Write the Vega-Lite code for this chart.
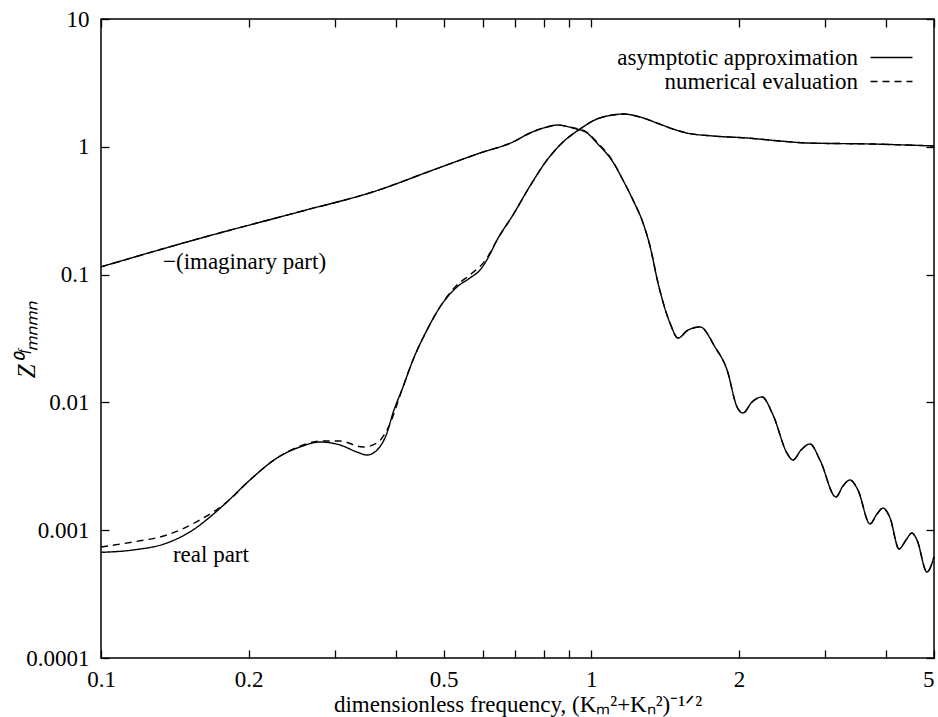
{
  "$schema": "https://vega.github.io/schema/vega-lite/v6.json",
  "width": 833,
  "height": 639,
  "autosize": {"type": "none"},
  "padding": {"left": 101, "top": 19, "right": 4, "bottom": 59},
  "background": "white",
  "config": {
    "font": "Liberation Serif",
    "view": {"stroke": "black", "strokeWidth": 1.5},
    "axis": {
      "labelFont": "Liberation Serif", "labelFontSize": 23, "labelColor": "black",
      "titleFont": "Liberation Serif", "titleFontSize": 23, "titleFontWeight": "normal", "titleColor": "black",
      "tickColor": "black", "tickWidth": 1.3, "domain": false, "grid": false
    },
    "legend": {"labelFont": "Liberation Serif"},
    "text": {"font": "Liberation Serif"}
  },
  "datasets": {
    "curves": [
      {"freq": 0.1, "Z": 0.115, "part": "imaginary", "method": "asymptotic approximation"},
      {"freq": 0.159, "Z": 0.192, "part": "imaginary", "method": "asymptotic approximation"},
      {"freq": 0.2546, "Z": 0.311, "part": "imaginary", "method": "asymptotic approximation"},
      {"freq": 0.365, "Z": 0.4535, "part": "imaginary", "method": "asymptotic approximation"},
      {"freq": 0.4755, "Z": 0.658, "part": "imaginary", "method": "asymptotic approximation"},
      {"freq": 0.593, "Z": 0.894, "part": "imaginary", "method": "asymptotic approximation"},
      {"freq": 0.692, "Z": 1.09, "part": "imaginary", "method": "asymptotic approximation"},
      {"freq": 0.75, "Z": 1.282, "part": "imaginary", "method": "asymptotic approximation"},
      {"freq": 0.8123, "Z": 1.429, "part": "imaginary", "method": "asymptotic approximation"},
      {"freq": 0.851, "Z": 1.48, "part": "imaginary", "method": "asymptotic approximation"},
      {"freq": 0.918, "Z": 1.4, "part": "imaginary", "method": "asymptotic approximation"},
      {"freq": 0.98, "Z": 1.282, "part": "imaginary", "method": "asymptotic approximation"},
      {"freq": 1.027, "Z": 1.07, "part": "imaginary", "method": "asymptotic approximation"},
      {"freq": 1.107, "Z": 0.76, "part": "imaginary", "method": "asymptotic approximation"},
      {"freq": 1.16, "Z": 0.55, "part": "imaginary", "method": "asymptotic approximation"},
      {"freq": 1.216, "Z": 0.384, "part": "imaginary", "method": "asymptotic approximation"},
      {"freq": 1.275, "Z": 0.2535, "part": "imaginary", "method": "asymptotic approximation"},
      {"freq": 1.318, "Z": 0.166, "part": "imaginary", "method": "asymptotic approximation"},
      {"freq": 1.368, "Z": 0.086, "part": "imaginary", "method": "asymptotic approximation"},
      {"freq": 1.447, "Z": 0.0418, "part": "imaginary", "method": "asymptotic approximation"},
      {"freq": 1.503, "Z": 0.0319, "part": "imaginary", "method": "asymptotic approximation"},
      {"freq": 1.575, "Z": 0.0368, "part": "imaginary", "method": "asymptotic approximation"},
      {"freq": 1.667, "Z": 0.0389, "part": "imaginary", "method": "asymptotic approximation"},
      {"freq": 1.788, "Z": 0.0271, "part": "imaginary", "method": "asymptotic approximation"},
      {"freq": 1.892, "Z": 0.01793, "part": "imaginary", "method": "asymptotic approximation"},
      {"freq": 1.983, "Z": 0.0092, "part": "imaginary", "method": "asymptotic approximation"},
      {"freq": 2.039, "Z": 0.00826, "part": "imaginary", "method": "asymptotic approximation"},
      {"freq": 2.127, "Z": 0.01007, "part": "imaginary", "method": "asymptotic approximation"},
      {"freq": 2.229, "Z": 0.01102, "part": "imaginary", "method": "asymptotic approximation"},
      {"freq": 2.348, "Z": 0.00797, "part": "imaginary", "method": "asymptotic approximation"},
      {"freq": 2.506, "Z": 0.00402, "part": "imaginary", "method": "asymptotic approximation"},
      {"freq": 2.579, "Z": 0.00354, "part": "imaginary", "method": "asymptotic approximation"},
      {"freq": 2.678, "Z": 0.00424, "part": "imaginary", "method": "asymptotic approximation"},
      {"freq": 2.793, "Z": 0.00473, "part": "imaginary", "method": "asymptotic approximation"},
      {"freq": 2.927, "Z": 0.00354, "part": "imaginary", "method": "asymptotic approximation"},
      {"freq": 3.155, "Z": 0.00182, "part": "imaginary", "method": "asymptotic approximation"},
      {"freq": 3.261, "Z": 0.00222, "part": "imaginary", "method": "asymptotic approximation"},
      {"freq": 3.37, "Z": 0.00247, "part": "imaginary", "method": "asymptotic approximation"},
      {"freq": 3.499, "Z": 0.00206, "part": "imaginary", "method": "asymptotic approximation"},
      {"freq": 3.702, "Z": 0.00112, "part": "imaginary", "method": "asymptotic approximation"},
      {"freq": 3.826, "Z": 0.00134, "part": "imaginary", "method": "asymptotic approximation"},
      {"freq": 3.935, "Z": 0.00149, "part": "imaginary", "method": "asymptotic approximation"},
      {"freq": 4.067, "Z": 0.00125, "part": "imaginary", "method": "asymptotic approximation"},
      {"freq": 4.243, "Z": 0.000713, "part": "imaginary", "method": "asymptotic approximation"},
      {"freq": 4.384, "Z": 0.000838, "part": "imaginary", "method": "asymptotic approximation"},
      {"freq": 4.509, "Z": 0.000951, "part": "imaginary", "method": "asymptotic approximation"},
      {"freq": 4.616, "Z": 0.000838, "part": "imaginary", "method": "asymptotic approximation"},
      {"freq": 4.838, "Z": 0.000471, "part": "imaginary", "method": "asymptotic approximation"},
      {"freq": 5.0, "Z": 0.000617, "part": "imaginary", "method": "asymptotic approximation"},

      {"freq": 0.1, "Z": 0.115, "part": "imaginary", "method": "numerical evaluation"},
      {"freq": 0.159, "Z": 0.192, "part": "imaginary", "method": "numerical evaluation"},
      {"freq": 0.2546, "Z": 0.311, "part": "imaginary", "method": "numerical evaluation"},
      {"freq": 0.365, "Z": 0.4535, "part": "imaginary", "method": "numerical evaluation"},
      {"freq": 0.4755, "Z": 0.658, "part": "imaginary", "method": "numerical evaluation"},
      {"freq": 0.593, "Z": 0.894, "part": "imaginary", "method": "numerical evaluation"},
      {"freq": 0.692, "Z": 1.09, "part": "imaginary", "method": "numerical evaluation"},
      {"freq": 0.75, "Z": 1.282, "part": "imaginary", "method": "numerical evaluation"},
      {"freq": 0.8123, "Z": 1.429, "part": "imaginary", "method": "numerical evaluation"},
      {"freq": 0.851, "Z": 1.48, "part": "imaginary", "method": "numerical evaluation"},
      {"freq": 0.918, "Z": 1.41, "part": "imaginary", "method": "numerical evaluation"},
      {"freq": 0.98, "Z": 1.3, "part": "imaginary", "method": "numerical evaluation"},
      {"freq": 1.027, "Z": 1.09, "part": "imaginary", "method": "numerical evaluation"},
      {"freq": 1.107, "Z": 0.77, "part": "imaginary", "method": "numerical evaluation"},
      {"freq": 1.16, "Z": 0.55, "part": "imaginary", "method": "numerical evaluation"},
      {"freq": 1.216, "Z": 0.384, "part": "imaginary", "method": "numerical evaluation"},
      {"freq": 1.275, "Z": 0.2535, "part": "imaginary", "method": "numerical evaluation"},
      {"freq": 1.318, "Z": 0.166, "part": "imaginary", "method": "numerical evaluation"},
      {"freq": 1.368, "Z": 0.086, "part": "imaginary", "method": "numerical evaluation"},
      {"freq": 1.447, "Z": 0.0418, "part": "imaginary", "method": "numerical evaluation"},
      {"freq": 1.503, "Z": 0.0319, "part": "imaginary", "method": "numerical evaluation"},
      {"freq": 1.575, "Z": 0.0368, "part": "imaginary", "method": "numerical evaluation"},
      {"freq": 1.667, "Z": 0.0389, "part": "imaginary", "method": "numerical evaluation"},
      {"freq": 1.788, "Z": 0.0271, "part": "imaginary", "method": "numerical evaluation"},
      {"freq": 1.892, "Z": 0.01793, "part": "imaginary", "method": "numerical evaluation"},
      {"freq": 1.983, "Z": 0.0092, "part": "imaginary", "method": "numerical evaluation"},
      {"freq": 2.039, "Z": 0.00826, "part": "imaginary", "method": "numerical evaluation"},
      {"freq": 2.127, "Z": 0.01007, "part": "imaginary", "method": "numerical evaluation"},
      {"freq": 2.229, "Z": 0.01102, "part": "imaginary", "method": "numerical evaluation"},
      {"freq": 2.348, "Z": 0.00797, "part": "imaginary", "method": "numerical evaluation"},
      {"freq": 2.506, "Z": 0.00402, "part": "imaginary", "method": "numerical evaluation"},
      {"freq": 2.579, "Z": 0.00354, "part": "imaginary", "method": "numerical evaluation"},
      {"freq": 2.678, "Z": 0.00424, "part": "imaginary", "method": "numerical evaluation"},
      {"freq": 2.793, "Z": 0.00473, "part": "imaginary", "method": "numerical evaluation"},
      {"freq": 2.927, "Z": 0.00354, "part": "imaginary", "method": "numerical evaluation"},
      {"freq": 3.155, "Z": 0.00182, "part": "imaginary", "method": "numerical evaluation"},
      {"freq": 3.261, "Z": 0.00222, "part": "imaginary", "method": "numerical evaluation"},
      {"freq": 3.37, "Z": 0.00247, "part": "imaginary", "method": "numerical evaluation"},
      {"freq": 3.499, "Z": 0.00206, "part": "imaginary", "method": "numerical evaluation"},
      {"freq": 3.702, "Z": 0.00112, "part": "imaginary", "method": "numerical evaluation"},
      {"freq": 3.826, "Z": 0.00134, "part": "imaginary", "method": "numerical evaluation"},
      {"freq": 3.935, "Z": 0.00149, "part": "imaginary", "method": "numerical evaluation"},
      {"freq": 4.067, "Z": 0.00125, "part": "imaginary", "method": "numerical evaluation"},
      {"freq": 4.243, "Z": 0.000713, "part": "imaginary", "method": "numerical evaluation"},
      {"freq": 4.384, "Z": 0.000838, "part": "imaginary", "method": "numerical evaluation"},
      {"freq": 4.509, "Z": 0.000951, "part": "imaginary", "method": "numerical evaluation"},
      {"freq": 4.616, "Z": 0.000838, "part": "imaginary", "method": "numerical evaluation"},
      {"freq": 4.838, "Z": 0.000471, "part": "imaginary", "method": "numerical evaluation"},
      {"freq": 5.0, "Z": 0.000617, "part": "imaginary", "method": "numerical evaluation"},

      {"freq": 0.1, "Z": 0.000671, "part": "real", "method": "asymptotic approximation"},
      {"freq": 0.1162, "Z": 0.0007, "part": "real", "method": "asymptotic approximation"},
      {"freq": 0.1363, "Z": 0.000794, "part": "real", "method": "asymptotic approximation"},
      {"freq": 0.154, "Z": 0.001004, "part": "real", "method": "asymptotic approximation"},
      {"freq": 0.1668, "Z": 0.001268, "part": "real", "method": "asymptotic approximation"},
      {"freq": 0.1807, "Z": 0.001663, "part": "real", "method": "asymptotic approximation"},
      {"freq": 0.2013, "Z": 0.002471, "part": "real", "method": "asymptotic approximation"},
      {"freq": 0.2285, "Z": 0.003672, "part": "real", "method": "asymptotic approximation"},
      {"freq": 0.2546, "Z": 0.004477, "part": "real", "method": "asymptotic approximation"},
      {"freq": 0.2797, "Z": 0.004898, "part": "real", "method": "asymptotic approximation"},
      {"freq": 0.3072, "Z": 0.004645, "part": "real", "method": "asymptotic approximation"},
      {"freq": 0.3327, "Z": 0.004091, "part": "real", "method": "asymptotic approximation"},
      {"freq": 0.3487, "Z": 0.003877, "part": "real", "method": "asymptotic approximation"},
      {"freq": 0.3656, "Z": 0.004241, "part": "real", "method": "asymptotic approximation"},
      {"freq": 0.383, "Z": 0.005764, "part": "real", "method": "asymptotic approximation"},
      {"freq": 0.394, "Z": 0.00826, "part": "real", "method": "asymptotic approximation"},
      {"freq": 0.413, "Z": 0.0132, "part": "real", "method": "asymptotic approximation"},
      {"freq": 0.4328, "Z": 0.02148, "part": "real", "method": "asymptotic approximation"},
      {"freq": 0.4623, "Z": 0.03685, "part": "real", "method": "asymptotic approximation"},
      {"freq": 0.4914, "Z": 0.05579, "part": "real", "method": "asymptotic approximation"},
      {"freq": 0.5322, "Z": 0.08, "part": "real", "method": "asymptotic approximation"},
      {"freq": 0.5656, "Z": 0.0941, "part": "real", "method": "asymptotic approximation"},
      {"freq": 0.5929, "Z": 0.1086, "part": "real", "method": "asymptotic approximation"},
      {"freq": 0.6155, "Z": 0.1349, "part": "real", "method": "asymptotic approximation"},
      {"freq": 0.6423, "Z": 0.1866, "part": "real", "method": "asymptotic approximation"},
      {"freq": 0.6922, "Z": 0.2926, "part": "real", "method": "asymptotic approximation"},
      {"freq": 0.7499, "Z": 0.4937, "part": "real", "method": "asymptotic approximation"},
      {"freq": 0.8123, "Z": 0.788, "part": "real", "method": "asymptotic approximation"},
      {"freq": 0.8757, "Z": 1.09, "part": "real", "method": "asymptotic approximation"},
      {"freq": 0.9484, "Z": 1.378, "part": "real", "method": "asymptotic approximation"},
      {"freq": 1.027, "Z": 1.65, "part": "real", "method": "asymptotic approximation"},
      {"freq": 1.107, "Z": 1.774, "part": "real", "method": "asymptotic approximation"},
      {"freq": 1.16, "Z": 1.805, "part": "real", "method": "asymptotic approximation"},
      {"freq": 1.257, "Z": 1.711, "part": "real", "method": "asymptotic approximation"},
      {"freq": 1.361, "Z": 1.535, "part": "real", "method": "asymptotic approximation"},
      {"freq": 1.468, "Z": 1.378, "part": "real", "method": "asymptotic approximation"},
      {"freq": 1.567, "Z": 1.282, "part": "real", "method": "asymptotic approximation"},
      {"freq": 1.771, "Z": 1.215, "part": "real", "method": "asymptotic approximation"},
      {"freq": 2.078, "Z": 1.172, "part": "real", "method": "asymptotic approximation"},
      {"freq": 2.426, "Z": 1.11, "part": "real", "method": "asymptotic approximation"},
      {"freq": 2.754, "Z": 1.071, "part": "real", "method": "asymptotic approximation"},
      {"freq": 3.754, "Z": 1.051, "part": "real", "method": "asymptotic approximation"},
      {"freq": 5.0, "Z": 1.015, "part": "real", "method": "asymptotic approximation"},

      {"freq": 0.1, "Z": 0.000739, "part": "real", "method": "numerical evaluation"},
      {"freq": 0.1162, "Z": 0.000809, "part": "real", "method": "numerical evaluation"},
      {"freq": 0.1363, "Z": 0.000917, "part": "real", "method": "numerical evaluation"},
      {"freq": 0.159, "Z": 0.001202, "part": "real", "method": "numerical evaluation"},
      {"freq": 0.1807, "Z": 0.001663, "part": "real", "method": "numerical evaluation"},
      {"freq": 0.2013, "Z": 0.002471, "part": "real", "method": "numerical evaluation"},
      {"freq": 0.2285, "Z": 0.003672, "part": "real", "method": "numerical evaluation"},
      {"freq": 0.2546, "Z": 0.00455, "part": "real", "method": "numerical evaluation"},
      {"freq": 0.2797, "Z": 0.004989, "part": "real", "method": "numerical evaluation"},
      {"freq": 0.3072, "Z": 0.004989, "part": "real", "method": "numerical evaluation"},
      {"freq": 0.3421, "Z": 0.004477, "part": "real", "method": "numerical evaluation"},
      {"freq": 0.3656, "Z": 0.00481, "part": "real", "method": "numerical evaluation"},
      {"freq": 0.3849, "Z": 0.006304, "part": "real", "method": "numerical evaluation"},
      {"freq": 0.413, "Z": 0.0132, "part": "real", "method": "numerical evaluation"},
      {"freq": 0.4328, "Z": 0.02148, "part": "real", "method": "numerical evaluation"},
      {"freq": 0.4623, "Z": 0.03685, "part": "real", "method": "numerical evaluation"},
      {"freq": 0.4914, "Z": 0.05579, "part": "real", "method": "numerical evaluation"},
      {"freq": 0.5322, "Z": 0.0829, "part": "real", "method": "numerical evaluation"},
      {"freq": 0.5656, "Z": 0.0993, "part": "real", "method": "numerical evaluation"},
      {"freq": 0.6127, "Z": 0.1349, "part": "real", "method": "numerical evaluation"},
      {"freq": 0.6423, "Z": 0.1866, "part": "real", "method": "numerical evaluation"},
      {"freq": 0.6922, "Z": 0.2926, "part": "real", "method": "numerical evaluation"},
      {"freq": 0.7499, "Z": 0.4937, "part": "real", "method": "numerical evaluation"},
      {"freq": 0.8123, "Z": 0.788, "part": "real", "method": "numerical evaluation"},
      {"freq": 0.8757, "Z": 1.09, "part": "real", "method": "numerical evaluation"},
      {"freq": 0.9484, "Z": 1.378, "part": "real", "method": "numerical evaluation"},
      {"freq": 1.027, "Z": 1.65, "part": "real", "method": "numerical evaluation"},
      {"freq": 1.107, "Z": 1.774, "part": "real", "method": "numerical evaluation"},
      {"freq": 1.16, "Z": 1.805, "part": "real", "method": "numerical evaluation"},
      {"freq": 1.257, "Z": 1.711, "part": "real", "method": "numerical evaluation"},
      {"freq": 1.361, "Z": 1.535, "part": "real", "method": "numerical evaluation"},
      {"freq": 1.468, "Z": 1.378, "part": "real", "method": "numerical evaluation"},
      {"freq": 1.567, "Z": 1.282, "part": "real", "method": "numerical evaluation"},
      {"freq": 1.771, "Z": 1.215, "part": "real", "method": "numerical evaluation"},
      {"freq": 2.078, "Z": 1.172, "part": "real", "method": "numerical evaluation"},
      {"freq": 2.426, "Z": 1.11, "part": "real", "method": "numerical evaluation"},
      {"freq": 2.754, "Z": 1.071, "part": "real", "method": "numerical evaluation"},
      {"freq": 3.754, "Z": 1.051, "part": "real", "method": "numerical evaluation"},
      {"freq": 5.0, "Z": 1.015, "part": "real", "method": "numerical evaluation"}
    ],
    "labels": [
      {"freq": 0.1338, "Z": 0.1256, "label": "−(imaginary part)"},
      {"freq": 0.1402, "Z": 0.00064, "label": "real part"}
    ]
  },
  "layer": [
    {
      "data": {"name": "curves"},
      "mark": {"type": "line", "color": "black", "strokeWidth": 1.4, "interpolate": "monotone"},
      "encoding": {
        "x": {
          "field": "freq", "type": "quantitative",
          "scale": {"type": "log", "domain": [0.1, 5], "nice": false},
          "axis": {
            "orient": "bottom",
            "values": [0.1, 0.2, 0.3, 0.4, 0.5, 0.6, 0.7, 0.8, 0.9, 1, 2, 3, 4, 5],
            "labelExpr": "indexof([0.1, 0.2, 0.5, 1, 2, 5], datum.value) >= 0 ? format(datum.value, '~g') : ''",
            "labelAlign": {"condition": {"test": "datum.value == 5", "value": "right"}, "value": "center"},
            "labelFlush": false, "labelOverlap": false,
            "tickSize": -8, "labelPadding": 18,
            "title": "dimensionless frequency, (Kₘ²+Kₙ²)⁻¹ᐟ²",
            "titlePadding": 2
          }
        },
        "y": {
          "field": "Z", "type": "quantitative",
          "scale": {"type": "log", "domain": [0.0001, 10], "nice": false},
          "axis": {
            "orient": "left",
            "values": [0.0001, 0.001, 0.01, 0.1, 1, 10],
            "format": "~g",
            "labelOverlap": false,
            "tickSize": -8, "labelPadding": 20,
            "title": "Z⁰ᶠₘₙₘₙ",
            "titleFontStyle": "italic",
            "titleFontSize": 25,
            "titleX": -75, "titleY": 320, "titleAngle": -90,
            "titleAlign": "center", "titleBaseline": "middle"
          }
        },
        "detail": {"field": "part", "type": "nominal"},
        "strokeDash": {
          "field": "method", "type": "nominal",
          "scale": {"domain": ["asymptotic approximation", "numerical evaluation"], "range": [[1, 0], [7, 5]]},
          "legend": {
            "orient": "none", "legendX": 779, "legendY": 27, "title": null,
            "padding": 0, "rowPadding": 0,
            "symbolType": "M-2,0H2", "symbolSize": 441, "symbolStrokeWidth": 1.4, "symbolStrokeColor": "black",
            "labelFont": "Liberation Serif", "labelFontSize": 23, "labelColor": "black",
            "labelAlign": "right", "labelOffset": -45, "labelLimit": 500
          }
        }
      }
    },
    {
      "data": {"name": "labels"},
      "mark": {"type": "text", "align": "left", "baseline": "middle", "font": "Liberation Serif", "fontSize": 23, "color": "black"},
      "encoding": {
        "x": {
          "field": "freq", "type": "quantitative",
          "axis": {
            "orient": "top",
            "values": [0.1, 0.2, 0.3, 0.4, 0.5, 0.6, 0.7, 0.8, 0.9, 1, 2, 3, 4, 5],
            "labels": false, "tickSize": -8, "title": null
          }
        },
        "y": {
          "field": "Z", "type": "quantitative",
          "axis": {
            "orient": "right",
            "values": [0.0001, 0.001, 0.01, 0.1, 1, 10],
            "labels": false, "tickSize": -8, "title": null
          }
        },
        "text": {"field": "label"}
      }
    }
  ],
  "resolve": {"axis": {"x": "independent", "y": "independent"}}
}
